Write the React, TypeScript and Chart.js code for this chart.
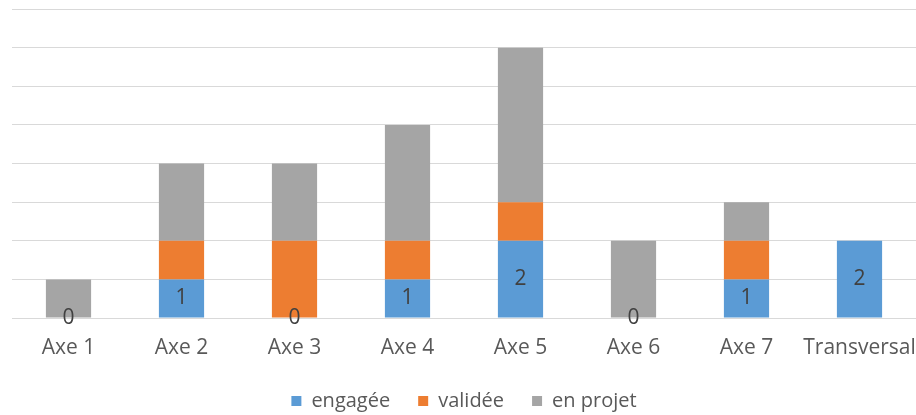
import React, { useEffect, useRef } from "react";
import { Chart, registerables } from "chart.js";

Chart.register(...registerables);

const categories = ["Axe 1", "Axe 2", "Axe 3", "Axe 4", "Axe 5", "Axe 6", "Axe 7", "Transversal"];
const engagee = [0, 1, 0, 1, 2, 0, 1, 2];
const validee = [0, 1, 2, 1, 1, 0, 1, 0];
const enProjet = [1, 2, 2, 3, 4, 2, 1, 0];
const yMax = 8;

const FONT = "'Open Sans', sans-serif";
const TEXT = "#595959";

const labelPlugin = {
  id: "engageeLabels",
  afterDatasetsDraw(chart: any) {
    const ctx = chart.ctx;
    const meta = chart.getDatasetMeta(0);
    ctx.save();
    ctx.font = `21px ${FONT}`;
    ctx.fillStyle = "#404040";
    ctx.textAlign = "center";
    ctx.textBaseline = "middle";
    meta.data.forEach((bar: any, i: number) => {
      const { x, y, base } = bar.getProps(["x", "y", "base"], true);
      ctx.fillText(String(engagee[i]), x, (y + base) / 2);
    });
    ctx.restore();
  },
};

export default function App() {
  const ref = useRef<HTMLCanvasElement>(null);
  useEffect(() => {
    if (!ref.current) return;
    const chart = new Chart(ref.current, {
      type: "bar",
      data: {
        labels: categories,
        datasets: [
          { label: "engagée", data: engagee, backgroundColor: "#5B9BD5" },
          { label: "validée", data: validee, backgroundColor: "#ED7D31" },
          { label: "en projet", data: enProjet, backgroundColor: "#A5A5A5" },
        ],
      },
      options: {
        animation: false,
        responsive: false,
        layout: { padding: { left: 12, right: 0, top: 9, bottom: -6 } },
        datasets: { bar: { barPercentage: 0.8, categoryPercentage: 0.5 } },
        scales: {
          x: {
            stacked: true,
            grid: { display: false, drawTicks: true, tickLength: 15 },
            border: { display: false },
            ticks: {
              color: TEXT,
              font: { family: FONT, size: 21, lineHeight: "30px" },
              padding: 0,
              maxRotation: 0,
              minRotation: 0,
              autoSkip: false,
            },
          },
          y: {
            stacked: true,
            min: 0,
            max: yMax,
            grid: { color: "#d9d9d9", lineWidth: 1, drawTicks: false },
            border: { display: false },
            ticks: { display: false, stepSize: 1 },
          },
        },
        plugins: {
          legend: {
            position: "bottom",
            labels: {
              color: TEXT,
              font: { family: FONT, size: 20 },
              boxWidth: 10,
              boxHeight: 10,
              padding: 28,
            },
          },
          tooltip: { enabled: false },
        },
      },
      plugins: [labelPlugin],
    });
    return () => chart.destroy();
  }, []);
  return (
    <div style={{ position: "fixed", left: 0, top: 0, width: 916, height: 415, background: "#fff" }}>
      <canvas ref={ref} width={916} height={415} />
    </div>
  );
}
